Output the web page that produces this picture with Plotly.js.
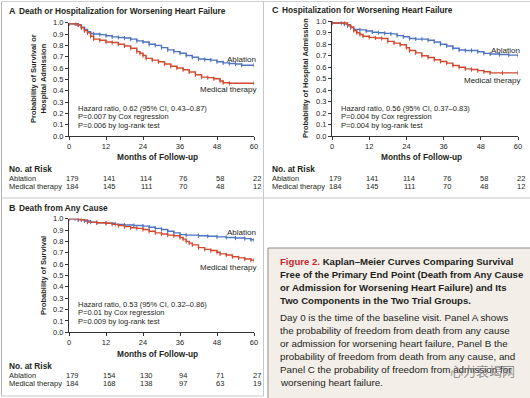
<!DOCTYPE html>
<html><head><meta charset="utf-8">
<script src="https://cdn.plot.ly/plotly-3.0.1.min.js"></script>
<style>html,body{margin:0;padding:0;background:#fff}#chart{width:530px;height:398px}</style>
</head><body><div id="chart"></div>
<script>
// ---------- DATA ----------
var months = [0, 12, 24, 36, 48, 60];
var yTicks = [0, 0.1, 0.2, 0.3, 0.4, 0.5, 0.6, 0.7, 0.8, 0.9, 1.0];

// Panel A: Death or hospitalization for worsening heart failure
var aAblT = [0,2.5,3,4,5,6,7,8,10,12,14,16,18,20,22,24,26,28,30,32,34,36,38,40,42,44,46,48,50,52,54,56,60];
var aAblS = [0.99,0.99,0.98,0.96,0.94,0.92,0.905,0.90,0.895,0.885,0.875,0.87,0.865,0.855,0.84,0.83,0.81,0.80,0.78,0.76,0.745,0.73,0.71,0.695,0.68,0.675,0.67,0.655,0.645,0.64,0.635,0.625,0.625];
var aMedT = [0,2,3,4,5,6,7,8,10,12,14,16,18,20,22,23,24,25,27,29,31,33,35,37,39,41,43,45,47,49,50,52,60];
var aMedS = [0.99,0.99,0.98,0.955,0.93,0.91,0.88,0.855,0.845,0.83,0.825,0.81,0.795,0.775,0.745,0.73,0.71,0.685,0.67,0.655,0.635,0.615,0.60,0.585,0.565,0.54,0.52,0.515,0.505,0.485,0.47,0.465,0.465];

// Panel B: Death from any cause
var bAblT = [0,2,3,5,7,9,12,15,18,21,24,26,28,30,32,34,36,38,42,45,48,51,54,57,59,60];
var bAblS = [1.0,1.0,0.99,0.98,0.97,0.965,0.96,0.95,0.945,0.94,0.935,0.925,0.915,0.905,0.89,0.875,0.86,0.855,0.85,0.845,0.84,0.835,0.83,0.825,0.815,0.81];
var bMedT = [0,3,4,6,9,12,14,16,18,20,22,24,26,28,30,32,34,36,37,38,39,40,42,44,46,48,49,51,53,55,57,59,60];
var bMedS = [1.0,1.0,0.99,0.97,0.965,0.96,0.95,0.94,0.93,0.92,0.915,0.905,0.89,0.875,0.865,0.855,0.85,0.835,0.82,0.80,0.785,0.77,0.745,0.73,0.72,0.705,0.69,0.68,0.665,0.655,0.645,0.635,0.635];

// Panel C: Hospitalization for worsening heart failure
var cAblT = [0,3,4,5,6,7,9,11,13,15,17,19,21,23,25,27,29,31,33,35,37,39,41,43,45,47,49,51,54,57,60];
var cAblS = [0.985,0.985,0.975,0.96,0.945,0.93,0.925,0.915,0.905,0.90,0.895,0.89,0.875,0.865,0.85,0.845,0.845,0.835,0.82,0.80,0.785,0.765,0.75,0.745,0.745,0.735,0.72,0.715,0.71,0.705,0.705];
var cMedT = [0,4,5,6,7,8,9,10,12,14,16,18,20,22,24,25,27,29,31,33,35,37,39,41,43,45,47,49,51,55,60];
var cMedS = [0.985,0.985,0.97,0.95,0.92,0.90,0.885,0.87,0.86,0.855,0.85,0.825,0.81,0.795,0.77,0.745,0.725,0.70,0.685,0.665,0.65,0.635,0.615,0.60,0.585,0.58,0.57,0.56,0.55,0.55,0.55];

// Numbers at risk
var riskAAbl = [179,141,114,76,58,22];
var riskAMed = [184,145,111,70,48,12];
var riskBAbl = [179,154,130,94,71,27];
var riskBMed = [184,168,138,97,63,19];
var riskCAbl = [179,141,114,76,58,22];
var riskCMed = [184,145,111,70,48,12];

var seriesNames = ['Ablation', 'Medical therapy'];
var hazardA = ['Hazard ratio, 0.62 (95% CI, 0.43\u20130.87)', 'P=0.007 by Cox regression', 'P=0.006 by log-rank test'];
var hazardB = ['Hazard ratio, 0.53 (95% CI, 0.32\u20130.86)', 'P=0.01 by Cox regression', 'P=0.009 by log-rank test'];
var hazardC = ['Hazard ratio, 0.56 (95% CI, 0.37\u20130.83)', 'P=0.004 by Cox regression', 'P=0.004 by log-rank test'];

// ---------- LAYOUT HELPERS ----------
var W = 530, H = 398;
var FONT = 'Liberation Sans Narrow, Arial Narrow, Liberation Sans, Arial, sans-serif';
var BLUE = '#4f74c2', RED = '#d24a2e', TXT = '#231f20';
function px(x){ return x / W; }
function py(y){ return 1 - y / H; }

var traces = [];
function km(t, s, color, xa, ya){
  traces.push({x: t, y: s, type: 'scatter', mode: 'lines+markers', line: {shape: 'hv', color: color, width: 1.4},
    marker: {symbol: 'line-ns-open', size: 3, color: color, line: {color: color, width: 1}},
    xaxis: xa, yaxis: ya, showlegend: false, hoverinfo: 'skip'});
}
km(aAblT, aAblS, BLUE, 'x', 'y');
km(aMedT, aMedS, RED, 'x', 'y');
km(cAblT, cAblS, BLUE, 'x2', 'y2');
km(cMedT, cMedS, RED, 'x2', 'y2');
km(bAblT, bAblS, BLUE, 'x3', 'y3');
km(bMedT, bMedS, RED, 'x3', 'y3');

function xAxis(d, anchor){
  return {domain: d, anchor: anchor, range: [0, 60], tickvals: months, ticks: 'outside', ticklen: 3, tickwidth: 1,
    tickcolor: '#333', showline: true, linecolor: '#333', linewidth: 1, showgrid: false, zeroline: false,
    tickfont: {family: FONT, size: 7.5, color: TXT}, fixedrange: true};
}
function yAxis(d, anchor){
  return {domain: d, anchor: anchor, range: [0, 1], tickvals: yTicks, tickformat: '.1f', ticks: 'outside', ticklen: 3, tickwidth: 1,
    tickcolor: '#333', showline: true, linecolor: '#333', linewidth: 1, showgrid: false, zeroline: false,
    tickfont: {family: FONT, size: 7.5, color: TXT}, fixedrange: true};
}

var ann = [];
function txt(x, y, s, opts){
  var a = {x: px(x), y: py(y), xref: 'paper', yref: 'paper', text: s, showarrow: false,
    xanchor: 'left', yanchor: 'middle', font: {family: FONT, size: 7.5, color: TXT}};
  for (var k in opts) a[k] = opts[k];
  ann.push(a);
}

function panel(letter, title, x0, x1, titleY, yTitle, yTitleX, yTitleY, hz, hzY, ablY, medY, axTitleY, riskY, xref, rAbl, rMed){
  txt(x0 - 62, titleY, '<b>' + letter + '</b>', {font: {family: FONT, size: 9, color: TXT}});
  txt(x0 - 52, titleY, '<b>' + title + '</b>', {font: {family: FONT, size: 8.3, color: TXT}});
  txt(yTitleX, yTitleY, '<b>' + yTitle + '</b>', {textangle: -90, xanchor: 'center', font: {family: FONT, size: 7.5, color: TXT}});
  for (var i = 0; i < hz.length; i++) txt(x0 + 7, hzY + i * 8.7, hz[i]);
  txt(x1 + 4, ablY, seriesNames[0], {xanchor: 'right', font: {family: FONT, size: 8, color: TXT}});
  txt(x1 + 4, medY, seriesNames[1], {xanchor: 'right', font: {family: FONT, size: 8, color: TXT}});
  txt((x0 + x1) / 2 - 4, axTitleY, '<b>Months of Follow-up</b>', {xanchor: 'center', font: {family: FONT, size: 8.3, color: TXT}});
  txt(x0 - 62, riskY, '<b>No. at Risk</b>', {font: {family: FONT, size: 8.3, color: TXT}});
  txt(x0 - 62, riskY + 9, seriesNames[0]);
  txt(x0 - 62, riskY + 17.5, seriesNames[1]);
  for (var j = 0; j < months.length; j++){
    ann.push({x: months[j], y: py(riskY + 9), xref: xref, yref: 'paper', text: String(rAbl[j]), showarrow: false,
      xanchor: 'center', yanchor: 'middle', xshift: 3, font: {family: FONT, size: 7.5, color: TXT}});
    ann.push({x: months[j], y: py(riskY + 17.5), xref: xref, yref: 'paper', text: String(rMed[j]), showarrow: false,
      xanchor: 'center', yanchor: 'middle', xshift: 3, font: {family: FONT, size: 7.5, color: TXT}});
  }
}

panel('A', 'Death or Hospitalization for Worsening Heart Failure', 69, 254, 11,
  'Probability of Survival or<br>Hospital Admission', 38, 79, hazardA, 108, 59, 89, 157, 169, 'x', riskAAbl, riskAMed);
panel('C', 'Hospitalization for Worsening Heart Failure', 332, 518, 10,
  'Probability of Hospital Admission', 306, 78, hazardC, 108, 51, 80, 157, 169, 'x2', riskCAbl, riskCMed);
panel('B', 'Death from Any Cause', 69, 254, 208,
  'Probability of Survival', 43, 276, hazardB, 304, 232, 267, 354, 366, 'x3', riskBAbl, riskBMed);

// caption
var capX = 278, capY0 = 261, capDY = 13.2;
var capBold = ['<span style="color:#c4262e">Figure 2.</span> Kaplan\u2013Meier Curves Comparing Survival',
  'Free of the Primary End Point (Death from Any Cause',
  'or Admission for Worsening Heart Failure) and Its',
  'Two Components in the Two Trial Groups.'];
var capNorm = ['Day 0 is the time of the baseline visit. Panel A shows',
  'the probability of freedom from death from any cause',
  'or admission for worsening heart failure, Panel B the',
  'probability of freedom from death from any cause, and',
  'Panel C the probability of freedom from admission for',
  'worsening heart failure.'];
var CAPFONT = 'Liberation Sans, Arial, sans-serif';
for (var i = 0; i < capBold.length; i++) txt(capX, capY0 + i * capDY, '<b>' + capBold[i] + '</b>', {font: {family: CAPFONT, size: 9.6, color: TXT}});
for (var i = 0; i < capNorm.length; i++) txt(capX, 317 + i * 13, capNorm[i], {font: {family: CAPFONT, size: 9.8, color: TXT}});
txt(448, 370, '心力衰竭网', {font: {family: 'Noto Sans CJK SC', size: 13, color: 'rgba(120,120,120,0.8)'}});

var shapes = [
  {type: 'rect', xref: 'paper', yref: 'paper', x0: px(268), x1: px(531), y0: py(399), y1: py(248), fillcolor: '#f4eee8', line: {color: '#8c8c8c', width: 1}, layer: 'below'},
  {type: 'line', xref: 'paper', yref: 'paper', x0: px(1.5), x1: px(1.5), y0: py(1), y1: py(396), line: {color: '#b0b0b0', width: 1}},
  {type: 'line', xref: 'paper', yref: 'paper', x0: px(1), x1: px(530), y0: py(1.5), y1: py(1.5), line: {color: '#d0d0d0', width: 1}},
  {type: 'line', xref: 'paper', yref: 'paper', x0: px(1), x1: px(530), y0: py(198), y1: py(198), line: {color: '#c8c8c8', width: 1}},
  {type: 'line', xref: 'paper', yref: 'paper', x0: px(263.5), x1: px(263.5), y0: py(1), y1: py(198), line: {color: '#c8c8c8', width: 1}},
  {type: 'line', xref: 'paper', yref: 'paper', x0: px(263.5), x1: px(263.5), y0: py(198), y1: py(396), line: {color: '#c8c8c8', width: 1}},
  {type: 'line', xref: 'paper', yref: 'paper', x0: px(1), x1: px(263.5), y0: py(396), y1: py(396), line: {color: '#c8c8c8', width: 1}}
];

var layout = {
  width: W, height: H, margin: {l: 0, r: 0, t: 0, b: 0}, paper_bgcolor: '#fff', plot_bgcolor: 'rgba(0,0,0,0)',
  showlegend: false,
  xaxis: xAxis([px(69), px(254)], 'y'), yaxis: yAxis([py(136), py(22.7)], 'x'),
  xaxis2: xAxis([px(332), px(518)], 'y2'), yaxis2: yAxis([py(136), py(21.3)], 'x2'),
  xaxis3: xAxis([px(69), px(254)], 'y3'), yaxis3: yAxis([py(332.3), py(218.7)], 'x3'),
  annotations: ann, shapes: shapes
};
Plotly.newPlot('chart', traces, layout, {staticPlot: true, displayModeBar: false});
</script></body></html>
